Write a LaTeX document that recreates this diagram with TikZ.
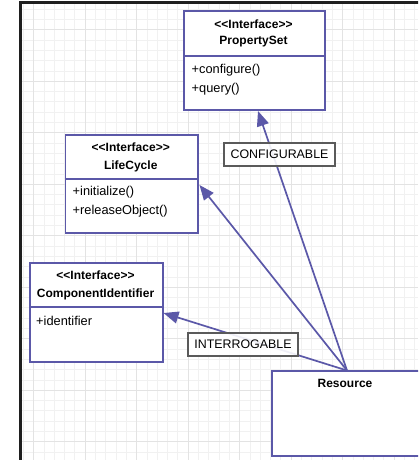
\documentclass[tikz,border=0pt]{standalone}
\usepackage{fontspec}
\setmainfont{Liberation Sans}
\usetikzlibrary{arrows.meta}
\definecolor{umlblue}{HTML}{5B58A8}
\definecolor{tagframe}{HTML}{5A5A5A}
\definecolor{gridminor}{HTML}{F1F1F1}
\definecolor{gridmajor}{HTML}{E3E3E3}
\tikzset{
  classbox/.style={draw=umlblue, line width=1.8pt, fill=white, anchor=north west, inner sep=0pt},
  divider/.style={draw=umlblue, line width=1.8pt},
  hdr/.style={font=\fontsize{12}{14}\selectfont\bfseries, inner sep=0pt},
  member/.style={font=\fontsize{12.8}{15}\selectfont, anchor=west, inner sep=0pt},
  tag/.style={draw=tagframe, line width=1.6pt, fill=white, fill opacity=0.9, text opacity=1,
    font=\fontsize{12.4}{14}\selectfont, minimum height=23pt, inner xsep=4pt, inner ysep=0pt},
  realize/.style={draw=umlblue, line width=1.7pt, -{Triangle[length=15pt,width=12pt]}},
  gminor/.style={draw=gridminor, line width=0.9pt},
  gmajor/.style={draw=gridmajor, line width=1pt},
}
\newcommand{\stereo}{<{}<Interface>{}>}
\begin{document}
\begin{tikzpicture}[x=1pt, y=-1pt]
\clip (0,0) rectangle (418,460);
\fill[white] (0,0) rectangle (418,460);

% background grid
\begin{scope}
  \clip (21,3.5) rectangle (418,460);
  \foreach \k in {-1,...,38} \draw[gminor] ({33.7+10.3*\k},0) -- ({33.7+10.3*\k},460);
  \foreach \k in {0,...,44} \draw[gminor] (0,{9.2+10.3*\k}) -- (418,{9.2+10.3*\k});
  \foreach \k in {0,5,...,35} \draw[gmajor] ({33.7+10.3*\k},0) -- ({33.7+10.3*\k},460);
  \foreach \k in {2,7,...,42} \draw[gmajor] (0,{9.2+10.3*\k}) -- (418,{9.2+10.3*\k});
\end{scope}

% frame
\draw[line width=2.6pt, draw=black!88] (20.3,460) -- (20.3,2.6) -- (420,2.6);

% PropertySet
\node[classbox, minimum width=141pt, minimum height=99pt] (ps) at (183,10) {};
\draw[divider] (183,56) -- (324,56);
\node[hdr] (psst) at (253.5,24) {\stereo};
\node[hdr] (psname) at (253.5,42) {PropertySet};
\node[member] (psm1) at (191.5,70) {+configure()};
\node[member] (psm2) at (191.5,89) {+query()};

% LifeCycle
\node[classbox, minimum width=132.5pt, minimum height=98pt] (lc) at (64.5,134) {};
\draw[divider] (64.5,179) -- (197,179);
\node[hdr] (lcst) at (130.75,147) {\stereo};
\node[hdr] (lcname) at (130.75,166) {LifeCycle};
\node[member] (lcm1) at (72.5,192) {+initialize()};
\node[member] (lcm2) at (72.5,211) {+releaseObject()};

% ComponentIdentifier
\node[classbox, minimum width=133pt, minimum height=99pt] (ci) at (29,262) {};
\draw[divider] (29,307) -- (162,307);
\node[hdr] (cist) at (95.5,275) {\stereo};
\node[hdr] (ciname) at (95.5,294) {ComponentIdentifier};
\node[member] (cim1) at (36,321) {+identifier};

% Resource
\node[classbox, minimum width=160pt, minimum height=85pt] (res) at (271,370) {};
\node[hdr] (resname) at (345,383) {Resource};

% connector end points
\coordinate (apex) at (347,370.5);
\coordinate (pstip) at (258,111);
\coordinate (lctip) at (199.5,185);
\coordinate (citip) at (163.5,313);

\draw[realize] (apex) -- (pstip);
\draw[realize] (apex) -- (lctip);
\draw[realize] (apex) -- (citip);

% stereotype labels on the connectors
\node[tag, minimum width=111pt] (cfg) at (279.5,154.5) {CONFIGURABLE};
\node[tag, minimum width=110pt] (itg) at (243,344.5) {INTERROGABLE};
\end{tikzpicture}
\end{document}
